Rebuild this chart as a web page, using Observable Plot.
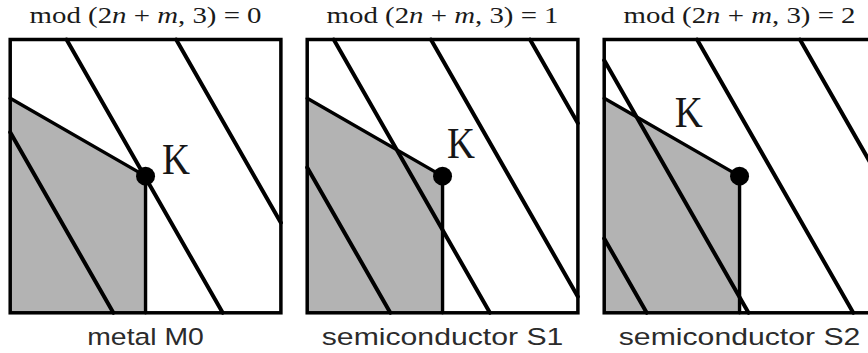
<!DOCTYPE html>
<html>
<head>
<meta charset="utf-8">
<script src="https://cdn.jsdelivr.net/npm/d3@7"></script>
<script src="https://cdn.jsdelivr.net/npm/@observablehq/plot@0.6"></script>
<style>
  html, body { margin: 0; padding: 0; background: #fff; overflow: hidden; }
  #chart { width: 868px; height: 353px; overflow: hidden; }
  #chart svg { display: block; }
</style>
</head>
<body>
<div id="chart"></div>
<script>
// Panels: chirality classes of nanotubes by mod(2n + m, 3)
const panels = ["M0", "S1", "S2"];
const residues = [0, 1, 2];
const bandLabels = ["metal M0", "semiconductor S1", "semiconductor S2"];

// Title pieces: [text, italic?]
const titleParts = [["mod (2", false], ["n", true], [" + ", false], ["m", true], [", 3) = ", false]];

// Allowed cutting lines in each panel, given by their kx-intercept at ky = 0
const cutIntercepts = [
  [0.381, 0.785, 1.19],
  [0.307, 0.675, 1.034, 1.40],
  [0.157, 0.533, 0.92, 1.30]
];
const cutSlope = -0.577; // change of kx per unit ky along a cutting line

// K point and the shaded (irreducible) zone of the Brillouin zone
const kPointX = 0.5;
const kPointY = 0.5;
const zoneX = [0, 0, 0.5, 0.5];
const zoneY = [0, 0.785, 0.5, 0];

// Where the "K" label sits in each panel
const kLabelX = [0.561, 0.516, 0.261];
const kLabelY = [0.509, 0.568, 0.679];

// ---- tables built from the arrays above ----
const titleText = (r) => titleParts.map(p => p[0]).join("") + r;

const segments = [];
panels.forEach((p, i) => {
  cutIntercepts[i].forEach((x0, j) => {
    // clip each line x = x0 + s*y to the unit square
    const yLo = Math.max(0, (x0 - 1) / -cutSlope);
    const yHi = Math.min(1, x0 / -cutSlope);
    if (yLo < yHi) {
      const id = p + "-" + j;
      segments.push({fx: p, id, x: x0 + cutSlope * yLo, y: yLo});
      segments.push({fx: p, id, x: x0 + cutSlope * yHi, y: yHi});
    }
  });
});

const zone = panels.flatMap(p => zoneX.map((x, k) => ({fx: p, x, y: zoneY[k]})));
const zoneEdge = panels.flatMap(p => zoneX.slice(1).map((x, k) => ({fx: p, x, y: zoneY[k + 1]})));
const kPoints = panels.map(p => ({fx: p, x: kPointX, y: kPointY}));
const kLabels = panels.map((p, i) => ({fx: p, x: kLabelX[i], y: kLabelY[i]}));
const panelRows = panels.map((p, i) => ({fx: p, title: titleText(residues[i]), label: bandLabels[i]}));

const chart = Plot.plot({
  width: 868,
  height: 353,
  marginLeft: 9.7,
  marginRight: -6.4,
  marginTop: 39,
  marginBottom: 40.7,
  x: {domain: [0, 1], axis: null},
  y: {domain: [0, 1], axis: null},
  fx: {domain: panels, axis: null, paddingInner: 0.0886, paddingOuter: 0, round: false},
  style: {background: "#fff"},
  marks: [
    Plot.line(zone, {fx: "fx", x: "x", y: "y", fill: "#b3b3b3", stroke: "none"}),
    Plot.line(segments, {fx: "fx", x: "x", y: "y", z: "id", stroke: "#000", strokeWidth: 4}),
    Plot.line(zoneEdge, {fx: "fx", x: "x", y: "y", stroke: "#000", strokeWidth: 3.4, strokeLinejoin: "miter"}),
    Plot.frame({stroke: "#000", strokeWidth: 3.5}),
    Plot.dot(kPoints, {fx: "fx", x: "x", y: "y", r: 9.5, fill: "#000", stroke: "none"}),
    Plot.text(kLabels, {fx: "fx", x: "x", y: "y", text: () => "K", textAnchor: "start", lineAnchor: "bottom",
      fontFamily: "Liberation Serif", fontSize: 44, fill: "#161616"}),
    Plot.text(panelRows, {fx: "fx", text: "title", frameAnchor: "top", lineAnchor: "bottom", dy: -16.3,
      fontFamily: "Liberation Serif", fontSize: 22.5, fill: "#1a1a1a"}),
    Plot.text(panelRows, {fx: "fx", text: "label", frameAnchor: "bottom", lineAnchor: "bottom", dy: 31.7,
      fontFamily: "Liberation Sans", fontSize: 24.5, fill: "#2b2b2b"})
  ]
});

document.getElementById("chart").append(chart);

// Set the titles with italic n and m, and widen the lettering
const textWidths = {title: 232, band: 241.7, metal: 116.7, K: 28};
chart.querySelectorAll("text").forEach(t => {
  const s = t.textContent;
  let target = null;
  if (s.startsWith("mod")) {
    const r = s.slice(-1);
    t.textContent = "";
    titleParts.concat([[r, false]]).forEach(([txt, it]) => {
      const ts = document.createElementNS("http://www.w3.org/2000/svg", "tspan");
      ts.textContent = txt;
      if (it) ts.setAttribute("font-style", "italic");
      t.appendChild(ts);
    });
    target = textWidths.title;
  } else if (s === "K") {
    target = textWidths.K;
  } else if (s.startsWith("metal")) {
    target = textWidths.metal;
  } else if (s.startsWith("semi")) {
    target = textWidths.band;
  }
  if (target) {
    t.setAttribute("xml:space", "preserve");
    t.style.whiteSpace = "pre";
    const w = t.getComputedTextLength();
    if (w > 0) {
      const tr = t.getAttribute("transform") || "";
      t.setAttribute("transform", tr + ` scale(${(target / w).toFixed(4)},1)`);
    }
  }
});
</script>
</body>
</html>
